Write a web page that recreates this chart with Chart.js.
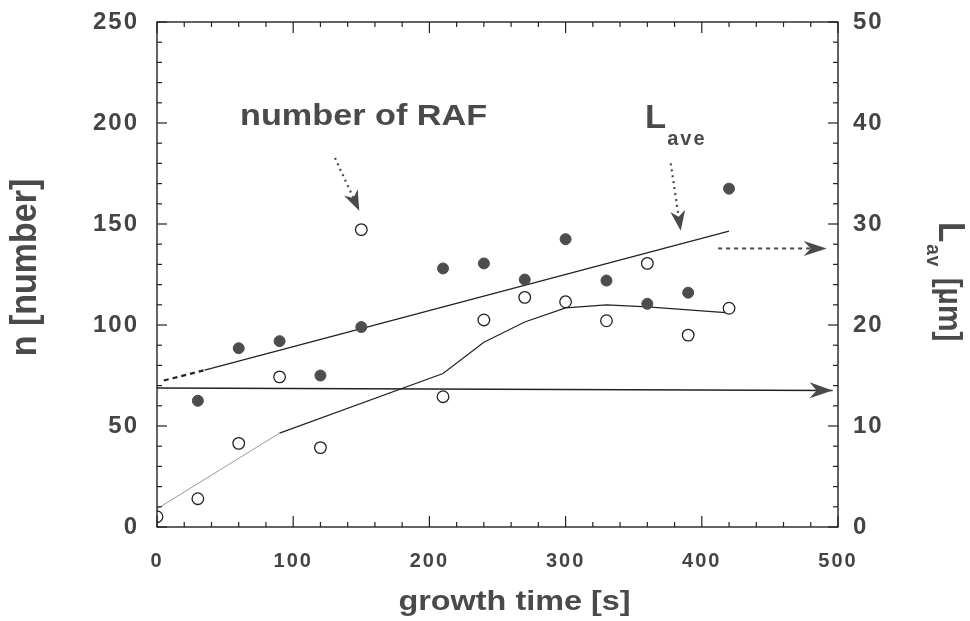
<!DOCTYPE html>
<html><head><meta charset="utf-8">
<script src="https://cdn.jsdelivr.net/npm/chart.js@4.4.1/dist/chart.umd.min.js"></script>
<style>html,body{margin:0;padding:0;background:#fff;}</style>
</head><body>
<canvas id="c" width="970" height="621"></canvas>
<script>
// ---- data ----
const lavTime   = [30,60,90,120,150,210,240,270,300,330,360,390,420];
const lavValue  = [12.5,17.7,18.4,15.0,19.8,25.6,26.1,24.5,28.5,24.4,22.1,23.2,33.5];
const rafTime   = [0,30,60,90,120,150,210,240,270,300,330,360,390,420];
const rafNumber = [5.1,14,41.4,74.3,39.3,147.2,64.5,102.5,113.7,111.5,102.1,130.5,95,108.3];
const rafFitTime   = [0,90,210,240,270,300,330,360,420];
const rafFitNumber = [9,46.5,76,91.5,101.5,108.5,110,109,106];
const lavFitTime  = [5,35,420];
const lavFitValue = [14.5,15.54,29.3];
const refLineTime   = [0,496];
const refLineNumber = [68.8,67.6];
const xTicks   = [0,100,200,300,400,500];
const nTicks   = [0,50,100,150,200,250];
const lavTicks = [0,10,20,30,40,50];
// annotation anchors (x in s, y in n units)
const arrowRAF   = [[130.7,182.7],[148.5,156.6]];
const arrowLave  = [[377.2,180.0],[384.5,146.7]];
const arrowRight = [[412.0,137.9],[491.7,137.9]];
const labelRAF   = [61,199];
const labelLave  = [358.3,197.5];

const pts = (xs, ys) => xs.map((x,i)=>({x, y:ys[i]}));
const TXT = '#4a4a4a';

function setLS(ctx, v){ if ('letterSpacing' in ctx) ctx.letterSpacing = v; }

function arrowHead(ctx, x1,y1,x2,y2,len,half,notch){
  const a=Math.atan2(y2-y1,x2-x1), c=Math.cos(a), s=Math.sin(a);
  ctx.beginPath();
  ctx.moveTo(x2,y2);
  ctx.lineTo(x2-len*c - half*s, y2-len*s + half*c);
  ctx.lineTo(x2-(len-notch)*c, y2-(len-notch)*s);
  ctx.lineTo(x2-len*c + half*s, y2-len*s - half*c);
  ctx.closePath(); ctx.fill();
}
function arrow(ctx, p1, p2, dash, width, len, half, notch){
  const a=Math.atan2(p2[1]-p1[1], p2[0]-p1[0]);
  const ex=p2[0]-(len-notch)*Math.cos(a), ey=p2[1]-(len-notch)*Math.sin(a);
  ctx.save();
  ctx.strokeStyle=TXT; ctx.fillStyle=TXT;
  ctx.setLineDash(dash); ctx.lineWidth=width;
  ctx.beginPath(); ctx.moveTo(p1[0],p1[1]); ctx.lineTo(ex,ey); ctx.stroke();
  ctx.setLineDash([]);
  arrowHead(ctx,p1[0],p1[1],p2[0],p2[1],len,half,notch);
  ctx.restore();
}
function text(ctx, str, x, y, font, opts={}){
  ctx.save();
  ctx.translate(x,y);
  if (opts.rot) ctx.rotate(opts.rot);
  ctx.scale(opts.sx||1, opts.sy||1);
  ctx.font=font; ctx.fillStyle=TXT;
  ctx.textAlign=opts.align||'left'; ctx.textBaseline=opts.base||'alphabetic';
  setLS(ctx, opts.ls||'0px');
  ctx.fillText(str,0,0);
  const w=ctx.measureText(str).width;
  ctx.restore();
  return w;
}

const deco = {
  id:'deco',
  beforeDraw(chart){ setLS(chart.ctx,'2px'); },
  afterDatasetsDraw(chart){ setLS(chart.ctx,'0px'); },
  afterDraw(chart){
    const ctx=chart.ctx, X=chart.scales.x, Y=chart.scales.y, Y2=chart.scales.y2;
    const {left,right,top,bottom}=chart.chartArea;
    const P = p => [X.getPixelForValue(p[0]), Y.getPixelForValue(p[1])];
    ctx.save();
    setLS(ctx,'0px');
    // frame
    ctx.strokeStyle='#222'; ctx.lineWidth=1.4;
    ctx.strokeRect(left,top,right-left,bottom-top);
    // inward ticks
    ctx.lineWidth=1.2;
    const seg=(a,b,c,d)=>{ctx.beginPath();ctx.moveTo(a,b);ctx.lineTo(c,d);ctx.stroke();};
    for(let v=xTicks[0]; v<=xTicks[xTicks.length-1]; v+=20){
      const px=X.getPixelForValue(v), L=(v%100===0)?11:5;
      seg(px,bottom,px,bottom-L); seg(px,top,px,top+L);
    }
    for(let v=nTicks[0]; v<=nTicks[nTicks.length-1]; v+=10){
      const py=Y.getPixelForValue(v), L=(v%50===0)?10:5;
      seg(left,py,left+L,py);
    }
    for(let v=lavTicks[0]; v<=lavTicks[lavTicks.length-1]; v+=2){
      const py=Y2.getPixelForValue(v), L=(v%10===0)?10:5;
      seg(right,py,right-L,py);
    }
    // arrows
    arrow(ctx,P(arrowRAF[0]),P(arrowRAF[1]),[2,4],2.2,20,7.5,6);
    arrow(ctx,P(arrowLave[0]),P(arrowLave[1]),[2,4],2.2,20,7.5,6);
    arrow(ctx,P(arrowRight[0]),P(arrowRight[1]),[4,4],2,23,7.5,7);
    const r1=P([refLineTime[0],refLineNumber[0]]), r2=P([refLineTime[1],refLineNumber[1]]);
    ctx.fillStyle=TXT; arrowHead(ctx,r1[0],r1[1],r2[0],r2[1],23,8,7);
    // labels
    const lr=P(labelRAF);
    text(ctx,'number of RAF',lr[0],lr[1],'bold 30px "Liberation Sans", Arial, sans-serif',{sx:1.14});
    const ll=P(labelLave);
    const wl=text(ctx,'L',ll[0],ll[1],'bold 33px "Liberation Sans", Arial, sans-serif',{sx:1.05});
    text(ctx,'ave',ll[0]+wl*1.05+1,ll[1]+17,'bold 20px "Liberation Sans", Arial, sans-serif',{ls:'2px'});
    // axis titles
    text(ctx,'growth time [s]',(left+right)/2+17,610,'bold 27px "Liberation Sans", Arial, sans-serif',{sx:1.2,align:'center'});
    text(ctx,'n [number]',36,(top+bottom)/2-7,'bold 34px "Liberation Sans", Arial, sans-serif',{rot:-Math.PI/2,sy:1.1,align:'center'});
    // right title: L_av [µm]
    const rx=right+101, ry=222;
    ctx.save(); ctx.translate(rx,ry); ctx.rotate(Math.PI/2); ctx.scale(1,1.1);
    ctx.fillStyle=TXT; ctx.textBaseline='alphabetic'; ctx.textAlign='left';
    ctx.font='bold 33px "Liberation Sans", Arial, sans-serif';
    ctx.fillText('L',0,0); let w=ctx.measureText('L').width;
    ctx.font='bold 19px "Liberation Sans", Arial, sans-serif'; setLS(ctx,'1px');
    ctx.fillText('av',w+2,11); w+=2+ctx.measureText('av').width;
    ctx.font='bold 30px "Liberation Sans", Arial, sans-serif'; setLS(ctx,'0px');
    ctx.fillText(' [\u00b5m]',w+2,0);
    ctx.restore();
    ctx.restore();
  }
};

const noPadY = s => { s.paddingTop=0; s.paddingBottom=0; };
const noPadX = s => { s.paddingLeft=0; s.paddingRight=0; };

new Chart(document.getElementById('c'), {
  data:{ datasets:[
    {type:'scatter', label:'L_av', data:pts(lavTime,lavValue), yAxisID:'y2', order:0,
     pointRadius:5.5, pointBackgroundColor:'#4d4d4d', pointBorderColor:'#4d4d4d', pointBorderWidth:1},
    {type:'scatter', label:'number of RAF', data:pts(rafTime,rafNumber), yAxisID:'y', order:0,
     pointRadius:5.8, pointBackgroundColor:'#fff', pointBorderColor:'#222', pointBorderWidth:1.3},
    {type:'line', label:'RAF fit', data:pts(rafFitTime,rafFitNumber), yAxisID:'y', order:2,
     borderColor:'#222', borderWidth:1.2, pointRadius:0, tension:0, fill:false,
     segment:{ borderColor: c => c.p0DataIndex===0 ? '#9a9a9a' : '#222', borderWidth: c => c.p0DataIndex===0 ? 1 : 1.2 }},
    {type:'line', label:'Lave fit', data:pts(lavFitTime,lavFitValue), yAxisID:'y2', order:2,
     borderColor:'#222', borderWidth:1.3, pointRadius:0, tension:0, fill:false,
     segment:{ borderDash: c => c.p0DataIndex===0 ? [5,4] : undefined, borderWidth: c => c.p0DataIndex===0 ? 2.2 : 1.3 }},
    {type:'line', label:'ref', data:pts(refLineTime,refLineNumber), yAxisID:'y', order:2,
     borderColor:'#222', borderWidth:1.6, pointRadius:0, tension:0, fill:false}
  ]},
  options:{
    responsive:false, animation:false, devicePixelRatio:1,
    layout:{padding:{top:22,left:0,right:0,bottom:0}},
    plugins:{legend:{display:false}, tooltip:{enabled:false}},
    scales:{
      x:{type:'linear', position:'bottom', min:0, max:500,
         afterBuildTicks:s=>{s.ticks=xTicks.map(v=>({value:v}));},
         afterFit:s=>{s.height=94; noPadX(s);},
         grid:{display:false, drawTicks:false}, border:{display:false},
         ticks:{color:'#444', padding:22, maxRotation:0, autoSkip:false,
                font:{family:'"Liberation Sans", Arial, sans-serif', size:20, weight:'bold'}}},
      y:{type:'linear', position:'left', min:0, max:250,
         afterBuildTicks:s=>{s.ticks=nTicks.map(v=>({value:v}));},
         afterFit:s=>{s.width=157; noPadY(s);},
         grid:{display:false, drawTicks:false}, border:{display:false},
         ticks:{color:'#444', padding:18, autoSkip:false,
                font:{family:'"Liberation Sans", Arial, sans-serif', size:24, weight:'bold'}}},
      y2:{type:'linear', position:'right', min:0, max:50,
         afterBuildTicks:s=>{s.ticks=lavTicks.map(v=>({value:v}));},
         afterFit:s=>{s.width=132; noPadY(s);},
         grid:{display:false, drawTicks:false}, border:{display:false},
         ticks:{color:'#444', padding:15, autoSkip:false,
                font:{family:'"Liberation Sans", Arial, sans-serif', size:24, weight:'bold'}}}
    }
  },
  plugins:[deco]
});
</script>
</body></html>
